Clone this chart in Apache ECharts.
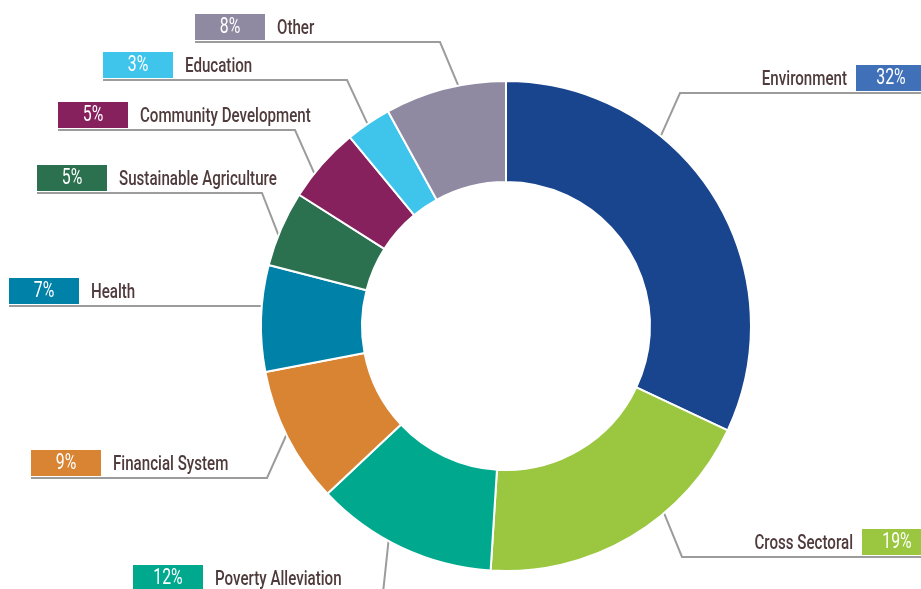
<!DOCTYPE html>
<html>
<head>
<meta charset="utf-8">
<title>Portfolio by Sector</title>
<script src="https://cdn.jsdelivr.net/npm/echarts@6/dist/echarts.min.js"></script>
<style>
  html, body { margin: 0; padding: 0; background: #ffffff; }
  #chart { width: 921px; height: 589px; }
</style>
</head>
<body>
<div id="chart"></div>
<script>
// Sector names and their share of the portfolio (percent), clockwise from 12 o'clock
const categories = ['Environment', 'Cross Sectoral', 'Poverty Alleviation', 'Financial System', 'Health',
  'Sustainable Agriculture', 'Community Development', 'Education', 'Other'];
const shares = [32, 19, 12, 9, 7, 5, 5, 3, 8];

// Slice fills and the matching fills of the percentage badges
const sliceColors = ['#18458d', '#9ac73f', '#00a98e', '#d98432', '#0081a7', '#2b7150', '#86215d', '#3fc5ec', '#8f89a2'];
const badgeColors = ['#3f70b8', '#9ac73f', '#00a98e', '#d98432', '#0081a7', '#2b7150', '#86215d', '#3fc5ec', '#8f89a2'];

// Label placement: side, badge edge x, underline y, elbow x (null = straight), leader start within slice (0..1)
const labelSide = ['right', 'right', 'left', 'left', 'left', 'left', 'left', 'left', 'left'];
const badgeEdgeX = [926, 932, 133, 31, 9, 37, 58, 103, 195];
const underlineY = [93, 557, 593, 478, 306, 193, 130, 80, 42];
const elbowX = [680, 682, 383, 267, null, 262, 295, 347, 440];
const leaderFrac = [0.34, 0.36, 0.58, 0.52, 0.61, 0.41, 0.34, 0.48, 0.61];

const CENTER = [506, 326];
const RADIUS = [144, 245];
const FONT = "Roboto, 'Noto Sans', sans-serif";
const TEXT_COLOR = '#4f3b3b';
// Horizontal squeeze applied to every label to get a condensed letterform
const SQUEEZE = 0.72;
const BADGE_W = 70;
const BADGE_GAP = 12;

const total = shares.reduce((a, b) => a + b, 0);
const startShare = [];
shares.reduce((acc, v, i) => { startShare[i] = acc; return acc + v; }, 0);

// Point on the outer rim where a slice's leader line begins
function leaderStart(i) {
  const deg = (startShare[i] + leaderFrac[i] * shares[i]) / total * 360;
  const rad = deg * Math.PI / 180;
  return [CENTER[0] + RADIUS[1] * Math.sin(rad), CENTER[1] - RADIUS[1] * Math.cos(rad)];
}

const seriesData = categories.map((name, i) => {
  const pct = shares[i] + '%';
  const right = labelSide[i] === 'right';
  const gap = (right ? 9 : BADGE_GAP) / SQUEEZE;
  return {
    name: name,
    value: shares[i],
    itemStyle: { color: sliceColors[i] },
    label: {
      formatter: right ? '{name|' + name + '}{box|' + pct + '}' : '{box|' + pct + '}{name|' + name + '}',
      rich: {
        box: {
          backgroundColor: badgeColors[i],
          color: '#ffffff',
          width: BADGE_W / SQUEEZE,
          height: 26,
          lineHeight: 26,
          align: 'center',
          fontSize: 22,
          fontFamily: FONT
        },
        name: {
          color: TEXT_COLOR,
          fontSize: 21,
          fontWeight: 500,
          lineHeight: 26,
          fontFamily: FONT,
          padding: right ? [4, gap, 0, 0] : [4, 0, 0, gap]
        }
      }
    }
  };
});

const chart = echarts.init(document.getElementById('chart'), null, { renderer: 'canvas' });

chart.setOption({
  backgroundColor: '#ffffff',
  animation: false,
  series: [{
    type: 'pie',
    center: CENTER,
    radius: RADIUS,
    startAngle: 90,
    clockwise: true,
    avoidLabelOverlap: false,
    itemStyle: { borderColor: '#ffffff', borderWidth: 2 },
    emphasis: { disabled: true },
    label: { show: true, position: 'outside' },
    labelLine: {
      show: true,
      smooth: false,
      length: 20,
      length2: 20,
      lineStyle: { color: '#9c9c9c', width: 2 }
    },
    labelLayout: function (params) {
      const i = params.dataIndex;
      const y = underlineY[i];
      const start = leaderStart(i);
      const elbow = [elbowX[i] == null ? start[0] : elbowX[i], y];
      const right = labelSide[i] === 'right';
      const end = [right ? chart.getWidth() : badgeEdgeX[i], y];
      return {
        x: badgeEdgeX[i],
        y: y - 2,
        align: right ? 'right' : 'left',
        verticalAlign: 'bottom',
        labelLinePoints: [start, elbow, end]
      };
    },
    data: seriesData
  }]
});

// Narrow the labels horizontally around their anchor point
const pieData = chart.getModel().getSeriesByIndex(0).getData();
pieData.each(function (idx) {
  const sector = pieData.getItemGraphicEl(idx);
  const label = sector && sector.getTextContent();
  if (label) {
    label.scaleX = SQUEEZE;
    label.markRedraw();
  }
});
chart.getZr().refresh();
</script>
</body>
</html>
